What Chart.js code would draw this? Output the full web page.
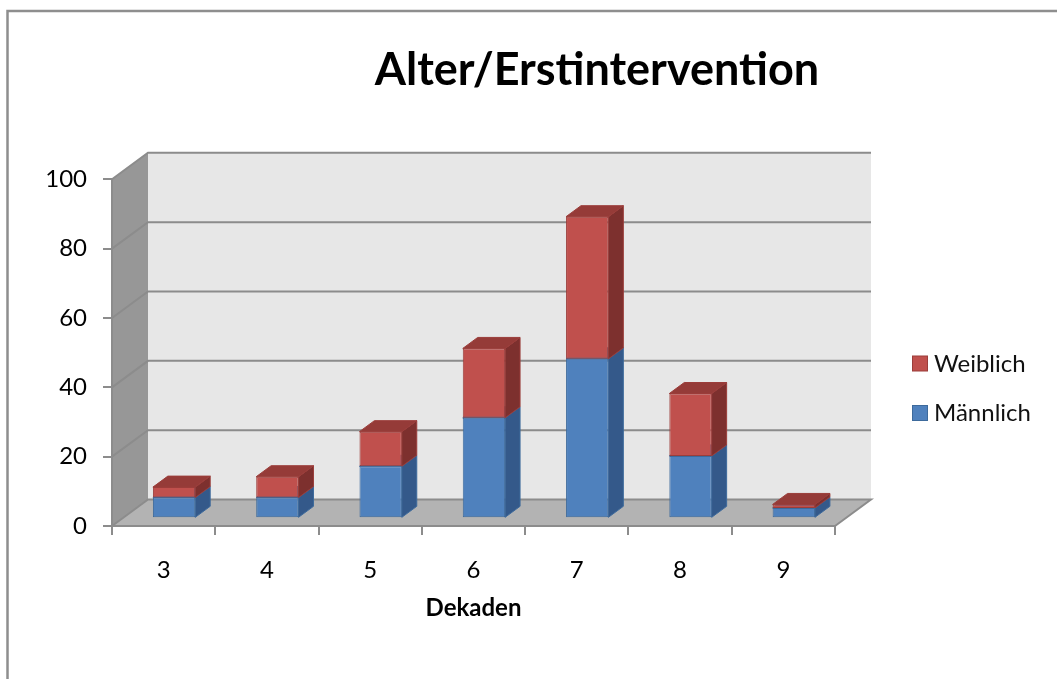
<!DOCTYPE html>
<html>
<head>
<meta charset="utf-8">
<script src="https://cdn.jsdelivr.net/npm/chart.js@4.4.1/dist/chart.umd.min.js"></script>
<style>
  html, body { margin: 0; padding: 0; background: #ffffff; }
  canvas { display: block; }
</style>
</head>
<body>
<canvas id="chart" width="1057" height="679"></canvas>
<script>
// Age decade at first intervention, split by sex
const categories = ['3', '4', '5', '6', '7', '8', '9'];
const maennlich = [6, 6, 15, 29, 46, 18, 3];
const weiblich = [3, 6, 10, 20, 41, 18, 1];
const valueMin = 0;
const valueMax = 100;
const valueStep = 20;
const chartTitle = 'Alter/Erstintervention';
const axisTitle = 'Dekaden';
const seriesNames = ['Männlich', 'Weiblich'];

const FONT = 'Lato, "Open Sans", sans-serif';

// Offset of the back wall relative to the front plane of the box
const DEPTH = { dx: 36, dy: -26.5 };
// Where the bars' front faces stand inside the box, and how deep the bars are
const BAR_FRONT = 0.29;
const BAR_DEPTH = 0.415;

const palette = {
  blue: { front: '#4f81bd', border: '#3d6a9c', side: '#34598a', top: '#44719f' },
  red:  { front: '#c0504d', border: '#9b3d3a', side: '#7d302e', top: '#953b38' }
};
const wallColors = { back: '#e7e7e7', left: '#979797', floor: '#b3b3b3', grid: '#8c8c8c' };

function poly(ctx, pts, fill, stroke) {
  ctx.beginPath();
  ctx.moveTo(pts[0][0], pts[0][1]);
  for (let i = 1; i < pts.length; i++) ctx.lineTo(pts[i][0], pts[i][1]);
  ctx.closePath();
  if (fill) { ctx.fillStyle = fill; ctx.fill(); }
  if (stroke) { ctx.strokeStyle = stroke; ctx.lineWidth = 1; ctx.stroke(); }
}

// Frame, title, legend, walls, floor and back-wall gridlines
const boxPlugin = {
  id: 'box3d',
  beforeDraw(chart) {
    const ctx = chart.ctx;
    const { left, right, top, bottom } = chart.chartArea;
    const ys = chart.scales.y;
    const dx = DEPTH.dx, dy = DEPTH.dy;
    ctx.save();

    // outer frame (top and left edge)
    ctx.strokeStyle = '#8e8e8e';
    ctx.lineWidth = 2.5;
    ctx.beginPath();
    ctx.moveTo(7.5, 679);
    ctx.lineTo(7.5, 11);
    ctx.lineTo(1057, 11);
    ctx.stroke();

    // title
    ctx.fillStyle = '#000000';
    ctx.font = 'bold 45px ' + FONT;
    ctx.textAlign = 'center';
    ctx.textBaseline = 'middle';
    ctx.fillText(chartTitle, 597, 70);

    // legend (Weiblich on top)
    const legendItems = [
      { label: seriesNames[1], c: palette.red, y: 364 },
      { label: seriesNames[0], c: palette.blue, y: 413.5 }
    ];
    ctx.font = '24px ' + FONT;
    ctx.textAlign = 'left';
    legendItems.forEach(it => {
      ctx.fillStyle = it.c.front;
      ctx.fillRect(912.5, it.y - 8, 15, 15);
      ctx.strokeStyle = it.c.border;
      ctx.lineWidth = 1;
      ctx.strokeRect(912.5, it.y - 8, 15, 15);
      ctx.fillStyle = '#111111';
      ctx.fillText(it.label, 934, it.y);
    });

    // back wall
    ctx.fillStyle = wallColors.back;
    ctx.fillRect(left + dx, top + dy, right - left, bottom - top);
    // left wall
    poly(ctx, [[left, top], [left + dx, top + dy], [left + dx, bottom + dy], [left, bottom]], wallColors.left);
    // floor
    poly(ctx, [[left, bottom], [right, bottom], [right + dx, bottom + dy], [left + dx, bottom + dy]], wallColors.floor);

    // gridlines across the left wall and the back wall
    ctx.strokeStyle = wallColors.grid;
    ctx.lineWidth = 2;
    for (let v = valueMin + valueStep; v <= valueMax; v += valueStep) {
      const y = ys.getPixelForValue(v);
      ctx.beginPath();
      ctx.moveTo(left, y);
      ctx.lineTo(left + dx, y + dy);
      ctx.lineTo(right + dx, y + dy);
      ctx.stroke();
    }
    // floor edges
    ctx.beginPath();
    ctx.moveTo(left, bottom);
    ctx.lineTo(left + dx, bottom + dy);
    ctx.lineTo(right + dx, bottom + dy);
    ctx.lineTo(right, bottom);
    ctx.stroke();
    ctx.restore();
  },
  beforeDatasetsDraw(chart) {
    const ctx = chart.ctx;
    const dx = DEPTH.dx, dy = DEPTH.dy;
    const bx = BAR_DEPTH * dx, by = BAR_DEPTH * dy;
    ctx.save();
    ctx.translate(BAR_FRONT * dx, BAR_FRONT * dy);
    // side and top faces, bottom segment first so upper segments cover it
    chart.data.datasets.forEach((ds, i) => {
      const c = ds.faceColors;
      chart.getDatasetMeta(i).data.forEach(el => {
        const { x, y, base, width } = el.getProps(['x', 'y', 'base', 'width'], true);
        const l = x - width / 2, r = x + width / 2;
        const t = Math.min(y, base), b = Math.max(y, base);
        poly(ctx, [[r, t], [r + bx, t + by], [r + bx, b + by], [r, b]], c.side, c.border);
        poly(ctx, [[l, t], [r, t], [r + bx, t + by], [l + bx, t + by]], c.top, c.border);
      });
    });
  },
  afterDatasetsDraw(chart) {
    chart.ctx.restore();
  }
};

new Chart(document.getElementById('chart'), {
  type: 'bar',
  data: {
    labels: categories,
    datasets: [
      {
        label: seriesNames[0], data: maennlich,
        backgroundColor: palette.blue.front, borderColor: palette.blue.border,
        borderWidth: 1, borderSkipped: false, faceColors: palette.blue, clip: false
      },
      {
        label: seriesNames[1], data: weiblich,
        backgroundColor: palette.red.front, borderColor: palette.red.border,
        borderWidth: 1, borderSkipped: false, faceColors: palette.red, clip: false
      }
    ]
  },
  options: {
    responsive: false,
    animation: false,
    devicePixelRatio: 1,
    layout: { padding: { left: 0, top: 179.3, right: 222, bottom: 56.6 } },
    datasets: { bar: { categoryPercentage: 1, barPercentage: 0.41 } },
    plugins: { legend: { display: false }, title: { display: false }, tooltip: { enabled: false } },
    scales: {
      x: {
        stacked: true,
        afterFit(scale) { scale.height = 96.4; },
        grid: { offset: true, drawOnChartArea: false, drawTicks: true, tickLength: 9, color: '#8c8c8c', lineWidth: 2 },
        border: { display: true, color: '#8c8c8c', width: 2 },
        ticks: { color: '#000000', padding: 21, font: { family: FONT, size: 24 } },
        title: { display: true, text: axisTitle, color: '#000000', padding: 0, font: { family: FONT, size: 24, weight: 'bold' } }
      },
      y: {
        stacked: true,
        min: valueMin, max: valueMax,
        afterFit(scale) { scale.width = 112; },
        grid: { drawOnChartArea: false, drawTicks: true, tickLength: 9, color: '#8c8c8c', lineWidth: 2 },
        border: { display: true, color: '#8c8c8c', width: 2 },
        ticks: { stepSize: valueStep, color: '#000000', padding: 16, font: { family: FONT, size: 24 } }
      }
    }
  },
  plugins: [boxPlugin]
});
</script>
</body>
</html>
